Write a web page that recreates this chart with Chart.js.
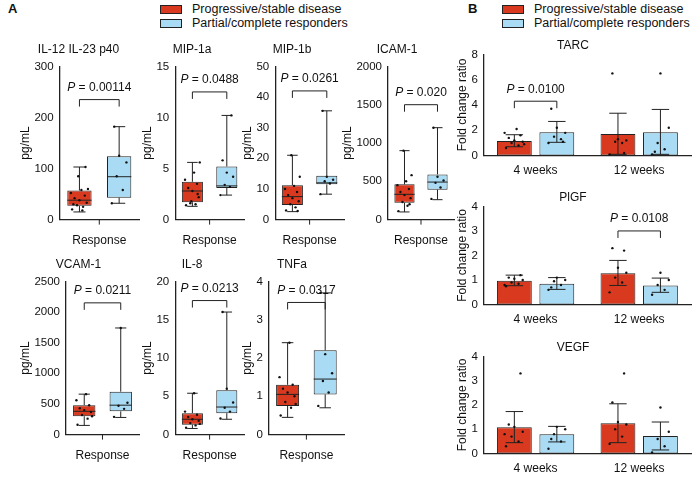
<!DOCTYPE html>
<html>
<head>
<meta charset="utf-8">
<script src="https://cdn.jsdelivr.net/npm/chart.js@4"></script>
<style>
  body { margin: 0; background: #fff; font-family: "Liberation Sans", Arial, sans-serif; }
  #wrap { position: relative; width: 700px; height: 479px; }
  canvas, .lbl { position: absolute; }
  .lbl { font-size: 12.5px; color: #111; line-height: 14px; }
  .panel { font-weight: bold; font-size: 13px; }
  .sw { display: inline-block; width: 20px; height: 7px; border: 1px solid #222; margin-right: 10px; vertical-align: middle; }
</style>
</head>
<body>
<div id="wrap">
  <div class="lbl panel" style="left:8px;top:2px">A</div>
  <div class="lbl panel" style="left:468px;top:2px">B</div>
  <div class="lbl" style="left:160px;top:2px"><span class="sw" style="background:#d93a1f"></span>Progressive/stable disease<br><span class="sw" style="background:#a9dcf4"></span>Partial/complete responders</div>
  <div class="lbl" style="left:502px;top:2px"><span class="sw" style="background:#d93a1f"></span>Progressive/stable disease<br><span class="sw" style="background:#a9dcf4"></span>Partial/complete responders</div>
</div>
<script>
const RED = '#d93a1f';
const BLUE = '#a9dcf4';

// ---- Panel A: box plots [min, q1, median, q3, max] for PD and PR ----
const boxNames = ['IL-12 IL-23 p40', 'MIP-1a', 'MIP-1b', 'ICAM-1', 'VCAM-1', 'IL-8', 'TNFa'];
const boxPD = [[15, 27, 38, 57, 103], [1.3, 1.7, 2.8, 3.7, 5.6], [2.6, 4.8, 7.5, 11.2, 21], [100, 220, 330, 460, 900],
  [150, 300, 380, 480, 660], [0.8, 1.3, 2.0, 2.8, 5.4], [0.45, 0.75, 1.05, 1.3, 2.4]];
const boxPR = [[32, 43, 84, 124, 182], [2.4, 3.1, 3.3, 5.2, 10.2], [8.3, 11.5, 12, 14.3, 35.5], [260, 390, 490, 590, 1200],
  [280, 380, 480, 700, 1740], [2.0, 2.8, 3.6, 5.8, 16], [0.7, 1.05, 1.45, 2.2, 3.7]];
const boxMax = [300, 15, 50, 2000, 2500, 20, 4];
const boxStep = [100, 5, 10, 500, 500, 5, 1];
const boxP = ['0.00114', '0.0488', '0.0261', '0.020', '0.0211', '0.0213', '0.0317'];
const boxBracket = [235, 12.5, 42, 1500, 2150, 17.5, 3.45];
const dotsPD = [[20, 25, 28, 33, 38, 42, 47, 52, 58, 60, 85, 103, 30, 18],
  [1.4, 1.5, 1.6, 2.2, 2.8, 3.1, 3.5, 3.9, 4.6, 5.6, 1.8, 2.5],
  [3, 4, 5, 6, 7, 8, 9, 10, 11, 14, 21, 2.8],
  [110, 180, 230, 280, 320, 360, 400, 450, 500, 580, 900, 200],
  [160, 260, 320, 370, 400, 430, 480, 560, 660, 300],
  [0.9, 1.2, 1.5, 1.8, 2.0, 2.3, 2.6, 3.0, 5.4, 1.4],
  [0.5, 0.7, 0.85, 1.0, 1.1, 1.2, 1.3, 1.5, 2.4, 0.8]];
const dotsPR = [[32, 58, 85, 112, 125, 182],
  [2.4, 3.2, 3.4, 4.2, 4.6, 5.8, 10.2],
  [8.3, 11.8, 12.5, 13, 14, 35.5],
  [270, 420, 480, 510, 560, 1200],
  [290, 420, 470, 520, 1740],
  [2.1, 3.0, 3.5, 4.2, 6.0, 16],
  [0.75, 1.1, 1.4, 1.6, 2.1, 3.7]];

// ---- Panel B: bar means, error low/high and dots ----
const barNames = ['TARC', 'PlGF', 'VEGF'];
const weeks = ['4 weeks', '12 weeks'];
const barMax = [8, 4, 4];
const barPD = [[1.15, 1.7], [0.97, 1.28], [1.08, 1.25]];
const barPR = [[1.85, 1.85], [0.85, 0.78], [0.8, 0.72]];
const errPD = [[[0.7, 1.65], [0.1, 3.35]], [[0.77, 1.2], [0.78, 1.8]], [[0.45, 1.73], [0.45, 2.05]]];
const errPR = [[[1.05, 2.7], [0.1, 3.65]], [[0.62, 1.1], [0.5, 1.08]], [[0.48, 1.12], [0.15, 1.3]]];
const barDotsPD = [[[0.6, 0.8, 1.0, 1.1, 1.2, 1.4, 1.6, 1.8, 2.1, 0.9], [0.1, 1.0, 1.1, 1.2, 1.3, 6.5, 0.2]],
  [[0.75, 0.85, 0.9, 1.0, 1.05, 1.1, 1.2, 0.8], [0.5, 0.9, 1.1, 1.3, 1.5, 2.3, 2.2]],
  [[0.3, 0.5, 0.7, 0.9, 1.1, 1.2, 3.3, 0.8], [0.4, 0.7, 1.0, 1.2, 1.3, 2.1, 3.3]]];
const barDotsPR = [[[1.0, 1.3, 1.5, 1.8, 2.2, 3.7, 1.1], [0.1, 0.5, 1.0, 2.2, 6.5, 0.3]],
  [[0.6, 0.8, 0.95, 1.0, 1.1, 0.7], [0.4, 0.6, 0.8, 1.0, 1.3]],
  [[0.2, 0.5, 0.8, 1.0, 1.1, 0.6], [0.05, 0.3, 0.6, 0.9, 1.9]]];
const barP = [{ g: 0, text: '0.0100', y: 4.3 }, { g: 1, text: '0.0108', y: 3.0 }, null];

const jitter = [-0.3, 0.15, -0.1, 0.3, 0, -0.2, 0.22, -0.35, 0.08, 0.35, -0.05, 0.25, -0.25, 0.12];
const tickFont = { family: 'Liberation Sans', size: 11.5 };

function bracket(ctx, x0, x1, y, text) {
  ctx.save();
  ctx.strokeStyle = '#222'; ctx.lineWidth = 1;
  ctx.beginPath();
  ctx.moveTo(x0, y + 7); ctx.lineTo(x0, y); ctx.lineTo(x1, y); ctx.lineTo(x1, y + 7);
  ctx.stroke();
  ctx.fillStyle = '#111';
  const rest = ' = ' + text;
  ctx.font = 'italic 12px "Liberation Sans"';
  const wp = ctx.measureText('P').width;
  ctx.font = '12px "Liberation Sans"';
  const wr = ctx.measureText(rest).width;
  const sx = (x0 + x1) / 2 - (wp + wr) / 2;
  ctx.textBaseline = 'bottom';
  ctx.font = 'italic 12px "Liberation Sans"';
  ctx.fillText('P', sx, y - 6);
  ctx.font = '12px "Liberation Sans"';
  ctx.fillText(rest, sx + wp, y - 6);
  ctx.restore();
}

function dots(ctx, x, w, vals, ys) {
  ctx.fillStyle = '#111';
  vals.forEach((v, k) => {
    ctx.beginPath();
    ctx.arc(x + jitter[k % jitter.length] * w, ys.getPixelForValue(v), 1.2, 0, Math.PI * 2);
    ctx.fill();
  });
}

const boxPlugin = {
  id: 'boxExtras',
  afterDatasetsDraw(chart, args, o) {
    const ctx = chart.ctx, ys = chart.scales.y;
    const els = chart.getDatasetMeta(0).data;
    ctx.save();
    ctx.strokeStyle = '#222'; ctx.lineWidth = 1;
    [o.pd, o.pr].forEach((b, i) => {
      const x = els[i].x, w = els[i].width;
      ctx.beginPath();
      ctx.moveTo(x, ys.getPixelForValue(b[0])); ctx.lineTo(x, ys.getPixelForValue(b[1]));
      ctx.moveTo(x, ys.getPixelForValue(b[3])); ctx.lineTo(x, ys.getPixelForValue(b[4]));
      ctx.moveTo(x - w / 4, ys.getPixelForValue(b[0])); ctx.lineTo(x + w / 4, ys.getPixelForValue(b[0]));
      ctx.moveTo(x - w / 4, ys.getPixelForValue(b[4])); ctx.lineTo(x + w / 4, ys.getPixelForValue(b[4]));
      ctx.moveTo(x - w / 2, ys.getPixelForValue(b[2])); ctx.lineTo(x + w / 2, ys.getPixelForValue(b[2]));
      ctx.stroke();
      dots(ctx, x, w, i ? o.dr : o.dp, ys);
    });
    const xs = chart.scales.x;
    const cx = (els[0].x + els[1].x) / 2;
    ctx.beginPath(); ctx.moveTo(cx, xs.top); ctx.lineTo(cx, xs.top + 5); ctx.stroke();
    ctx.restore();
    bracket(ctx, els[0].x, els[1].x, ys.getPixelForValue(o.by), o.p);
  }
};

const barPlugin = {
  id: 'barExtras',
  afterDatasetsDraw(chart, args, o) {
    const ctx = chart.ctx, ys = chart.scales.y;
    ctx.save();
    ctx.strokeStyle = '#222'; ctx.lineWidth = 1;
    [0, 1].forEach(d => {
      const els = chart.getDatasetMeta(d).data;
      els.forEach((el, g) => {
        const e = (d ? o.er : o.ep)[g];
        const x = el.x, w = el.width;
        ctx.beginPath();
        ctx.moveTo(x, ys.getPixelForValue(e[0])); ctx.lineTo(x, ys.getPixelForValue(e[1]));
        ctx.moveTo(x - w / 4, ys.getPixelForValue(e[0])); ctx.lineTo(x + w / 4, ys.getPixelForValue(e[0]));
        ctx.moveTo(x - w / 4, ys.getPixelForValue(e[1])); ctx.lineTo(x + w / 4, ys.getPixelForValue(e[1]));
        ctx.stroke();
        dots(ctx, x, w * 0.8, (d ? o.dr : o.dp)[g], ys);
      });
    });
    ctx.restore();
    if (o.p) {
      const a = chart.getDatasetMeta(0).data[o.p.g], b = chart.getDatasetMeta(1).data[o.p.g];
      bracket(ctx, a.x, b.x, ys.getPixelForValue(o.p.y), o.p.text);
    }
  }
};

function addCanvas(left, top, w, h) {
  const c = document.createElement('canvas');
  c.width = w; c.height = h;
  c.style.left = left + 'px'; c.style.top = top + 'px';
  c.style.width = w + 'px'; c.style.height = h + 'px';
  document.getElementById('wrap').appendChild(c);
  return c;
}

const yAxisBase = (max, step, title) => ({
  min: 0, max: max,
  ticks: { stepSize: step, color: '#111', font: tickFont, padding: 2, callback: v => String(v) },
  grid: { display: false, drawTicks: true, tickLength: 4, tickColor: '#222' },
  border: { color: '#222', width: 1.3 },
  title: { display: true, text: title, color: '#111', font: { family: 'Liberation Sans', size: 12 }, padding: 0 }
});

const boxPos = [[18, 40, 125], [140, 40, 108], [240, 40, 108], [340, 40, 118],
  [18, 255, 125], [140, 255, 108], [240, 255, 108]];

boxNames.forEach((name, i) => {
  const p = boxPos[i];
  new Chart(addCanvas(p[0], p[1], p[2], 212), {
    type: 'bar',
    data: {
      labels: ['PD', 'PR'],
      datasets: [{
        data: [[boxPD[i][1], boxPD[i][3]], [boxPR[i][1], boxPR[i][3]]],
        backgroundColor: [RED, BLUE], borderColor: '#222', borderWidth: 1, borderSkipped: false,
        barPercentage: 0.72, categoryPercentage: 0.85
      }]
    },
    options: {
      responsive: false, animation: false,
      layout: { padding: { right: 4, top: 0 } },
      plugins: {
        legend: { display: false }, tooltip: { enabled: false },
        title: { display: true, text: name, color: '#111', font: { family: 'Liberation Sans', size: 12, weight: 'normal' }, padding: { top: 2, bottom: 10 } },
        boxExtras: { pd: boxPD[i], pr: boxPR[i], dp: dotsPD[i], dr: dotsPR[i], by: boxBracket[i], p: boxP[i] }
      },
      scales: {
        x: {
          ticks: { display: false }, grid: { display: false }, border: { color: '#222', width: 1.3 },
          title: { display: true, text: 'Response', color: '#111', font: { family: 'Liberation Sans', size: 12 }, padding: { top: 6 } }
        },
        y: yAxisBase(boxMax[i], boxStep[i], 'pg/mL')
      }
    },
    plugins: [boxPlugin]
  });
});

const barPos = [[455, 36, 145], [455, 188, 142], [455, 338, 141]];

barNames.forEach((name, i) => {
  const p = barPos[i];
  new Chart(addCanvas(p[0], p[1], 240, p[2]), {
    type: 'bar',
    data: {
      labels: weeks,
      datasets: [
        { data: barPD[i], backgroundColor: RED, borderColor: '#222', borderWidth: 1, borderSkipped: false, barPercentage: 0.82, categoryPercentage: 0.82 },
        { data: barPR[i], backgroundColor: BLUE, borderColor: '#222', borderWidth: 1, borderSkipped: false, barPercentage: 0.82, categoryPercentage: 0.82 }
      ]
    },
    options: {
      responsive: false, animation: false,
      layout: { padding: { right: 4 } },
      plugins: {
        legend: { display: false }, tooltip: { enabled: false },
        title: { display: true, text: name, color: '#111', font: { family: 'Liberation Sans', size: 12, weight: 'normal' }, padding: { top: 2, bottom: 2 } },
        barExtras: { ep: errPD[i], er: errPR[i], dp: barDotsPD[i], dr: barDotsPR[i], p: barP[i] }
      },
      scales: {
        x: {
          ticks: { color: '#111', font: { family: 'Liberation Sans', size: 12 } },
          grid: { display: false, tickLength: 5, tickColor: '#222', offset: false },
          border: { color: '#222', width: 1.3 }
        },
        y: yAxisBase(barMax[i], 1, 'Fold change ratio')
      }
    },
    plugins: [barPlugin]
  });
});
</script>
</body>
</html>
